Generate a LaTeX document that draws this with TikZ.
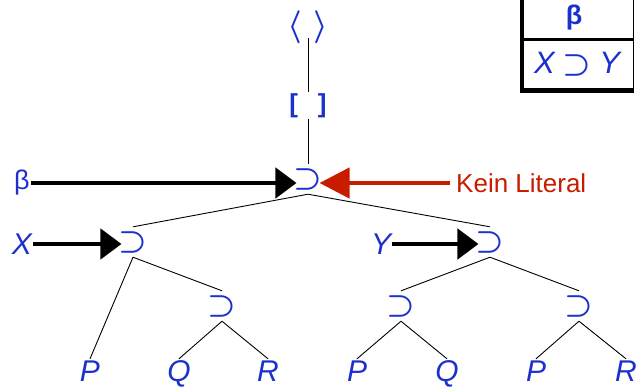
\documentclass[tikz,border=0pt]{standalone}
\usepackage{graphicx}
\usepackage{fontspec}
\setmainfont{Liberation Sans}
\usetikzlibrary{arrows.meta}
\definecolor{tblue}{RGB}{28,48,204}
\definecolor{tred}{RGB}{200,28,0}
\newcommand{\bigsup}{\scalebox{3.2}{\fontsize{10}{10}\selectfont\boldmath$\supset$}}
\tikzset{
  op/.style={text=tblue, inner ysep=0pt, inner xsep=-3pt, minimum height=30pt},
  lit/.style={text=tblue, font=\fontsize{30}{30}\selectfont\itshape,
    inner sep=1pt, text height=21.5pt, text depth=0pt, anchor=base},
  edge/.style={draw=black, line width=0.9pt},
  fatarrow/.style={draw=black, line width=4.5pt,
    -{Triangle[length=21pt,width=30pt]}},
  redarrow/.style={draw=tred, line width=4.5pt,
    -{Triangle[length=30pt,width=30pt]}},
}
\begin{document}
\begin{tikzpicture}[x=1pt,y=-1pt]
  \useasboundingbox (0,0) rectangle (636,388);

  % formula table in the corner
  \fill[black] (520,-2) rectangle (633.5,92.5);
  \filldraw[fill=white, draw=black, line width=0.8pt] (523.5,-5) rectangle (633.5,88.5);
  \draw[line width=3pt] (520,39.5) -- (633.5,39.5);
  \node[text=tblue, font=\fontsize{27}{27}\selectfont\bfseries, inner sep=0pt] (tb) at (574,17.5) {β};
  \node[text=tblue, font=\fontsize{31}{31}\selectfont, inner sep=0pt, anchor=base] (tf) at (577,73)
    {\itshape X\hspace{8pt}\upshape\bigsup\hspace{8pt}\itshape Y};

  % tree
  \node[text=tblue, inner sep=0pt] (ang) at (308,27) {\scalebox{3.3}{\boldmath$\langle\mkern5mu\rangle$}};
  \node[text=tblue, font=\fontsize{26}{26}\selectfont\bfseries, inner sep=1.5pt] (brk) at (308,105.5) {[\hspace{20pt}]};

  \node[op] (root) at (308,179) {\bigsup};
  \node[op] (lx) at (133,242) {\bigsup};
  \node[op] (rx) at (490,242) {\bigsup};
  \node[op] (la) at (222,306) {\bigsup};
  \node[op] (ra1) at (401,306) {\bigsup};
  \node[op] (ra2) at (579,306) {\bigsup};

  \node[lit] (p1) at (90,381.5) {P};
  \node[lit] (q1) at (179,381.5) {Q};
  \node[lit] (r1) at (268,381.5) {R};
  \node[lit] (p2) at (357,381.5) {P};
  \node[lit] (q2) at (447,381.5) {Q};
  \node[lit] (p3) at (536,381.5) {P};
  \node[lit] (r3) at (626,381.5) {R};

  \draw[edge] ([yshift=-11pt]ang.center) -- (brk.north);
  \draw[edge] (brk.south) -- (root.north);
  \draw[edge] (root.south) -- (lx.north);
  \draw[edge] (root.south) -- (rx.north);
  \draw[edge] (lx.south) -- (p1.north);
  \draw[edge] (lx.south) -- (la.north);
  \draw[edge] (la.south) -- (q1.north);
  \draw[edge] (la.south) -- (r1.north);
  \draw[edge] (rx.south) -- (ra1.north);
  \draw[edge] (rx.south) -- (ra2.north);
  \draw[edge] (ra1.south) -- (p2.north);
  \draw[edge] (ra1.south) -- (q2.north);
  \draw[edge] (ra2.south) -- (p3.north);
  \draw[edge] (ra2.south) -- (r3.north);

  % labels and pointers
  \node[text=tblue, font=\fontsize{27}{27}\selectfont, inner sep=1pt] (lbeta) at (22,183) {β};
  \node[text=tblue, font=\fontsize{30}{30}\selectfont\itshape, inner sep=0.5pt] (lxl) at (22,244) {X};
  \node[text=tblue, font=\fontsize{30}{30}\selectfont\itshape, inner sep=0.5pt] (lyl) at (381,244) {Y};
  \node[text=tred, font=\fontsize{26}{26}\selectfont, inner sep=0pt, anchor=west] (kein) at (456,183) {Kein Literal};

  \draw[fatarrow] (lbeta.east) -- (lbeta.east -| root.west);
  \draw[fatarrow] (lxl.east) -- (lxl.east -| lx.west);
  \draw[fatarrow] (lyl.east) -- (lyl.east -| rx.west);
  \draw[redarrow, shorten <=6pt] (kein.west) -- (kein.west -| root.east);
\end{tikzpicture}
\end{document}
